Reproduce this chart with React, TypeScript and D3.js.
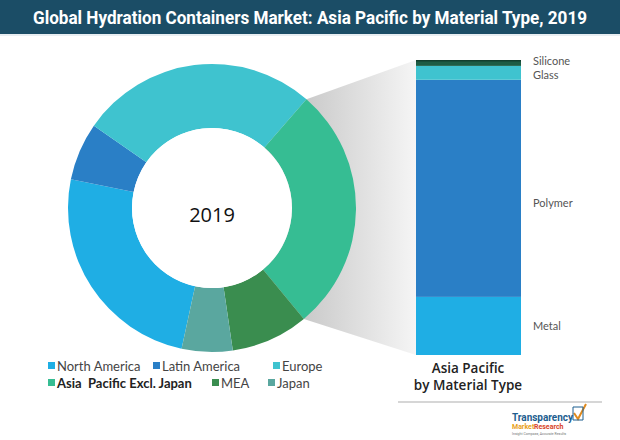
import React from "react";
import * as d3 from "d3";

const regions = ["North America", "Latin America", "Europe", "Asia  Pacific Excl. Japan", "MEA", "Japan"];
const regionShares = [24.8, 6.5, 26.7, 27.6, 8.7, 5.7];
const regionColors = ["#1faee4", "#2a7fc6", "#3fc3cf", "#36bd93", "#3a8d4f", "#5aa79f"];

const materials = ["Metal", "Polymer", "Glass", "Silicone"];
const materialShares = [19.7, 73.6, 4.7, 2.0];
const materialColors = ["#1faee4", "#2a7fc6", "#3fc3cf", "#1d5c44"];

const W = 620, H = 440;
const cx = 212, cy = 208, rOut = 144, rIn = 80;
const startDeg = 192.2;

export default function App() {
  const pie = d3.pie<number>().sort(null).value((d) => d)
    .startAngle((startDeg * Math.PI) / 180)
    .endAngle(((startDeg + 360) * Math.PI) / 180);
  const arcs = pie(regionShares);
  const arcGen = d3.arc<d3.PieArcDatum<number>>().innerRadius(rIn).outerRadius(rOut);

  const barX0 = 416, barX1 = 521, barTop = 60, barBottom = 355;
  const total = d3.sum(materialShares);
  const y = d3.scaleLinear().domain([0, total]).range([barBottom, barTop]);
  const cum = d3.cumsum(materialShares);
  const segs = materialShares.map((v, i) => ({ name: materials[i], y0: cum[i] - v, y1: cum[i], color: materialColors[i] }));
  const labelY: Record<string, number> = { Silicone: 61, Glass: 75, Polymer: 203, Metal: 326 };

  const ap = arcs[3];
  const ptA = [cx + rOut * Math.sin(ap.startAngle), cy - rOut * Math.cos(ap.startAngle)];
  const ptB = [cx + rOut * Math.sin(ap.endAngle), cy - rOut * Math.cos(ap.endAngle)];
  const trap = `M${cx},${cy} L${ptA[0]},${ptA[1]} L${barX0},${barTop} L${barX0},${barBottom} L${ptB[0]},${ptB[1]} Z`;

  const legendRows = [
    [{ i: 0, x: 48 }, { i: 1, x: 153 }, { i: 2, x: 273 }],
    [{ i: 3, x: 48 }, { i: 4, x: 212 }, { i: 5, x: 268 }],
  ];
  const legendY = [366, 383];

  return (
    <svg width={W} height={H} style={{ position: "absolute", left: 0, top: 0, background: "#fff" }}>
      <defs>
        <linearGradient id="gray" x1="300" x2={barX0} y1="0" y2="0" gradientUnits="userSpaceOnUse">
          <stop offset="0" stopColor="#c8c8c8" />
          <stop offset="1" stopColor="#f5f5f5" />
        </linearGradient>
      </defs>
      <rect x={0} y={0} width={W} height={H} fill="#ffffff" />
      <rect x={0} y={0} width={W} height={34} fill="#1b4d66" />
      <rect x={0} y={34} width={W} height={2} fill="#e8eef2" />
      <text x={310} y={24} textAnchor="middle" fill="#ffffff" fontFamily="Roboto, 'DejaVu Sans Condensed', sans-serif"
        fontWeight="bold" fontSize={18} textLength={554} lengthAdjust="spacingAndGlyphs">
        Global Hydration Containers Market: Asia Pacific by Material Type, 2019
      </text>

      <path d={trap} fill="url(#gray)" />

      <g transform={`translate(${cx},${cy})`}>
        {arcs.map((a, i) => (
          <path key={i} d={arcGen(a) || ""} fill={regionColors[i]} />
        ))}
        <circle r={rIn} fill="#fff" />
        <text x={0} y={14} textAnchor="middle" fontFamily="'Open Sans', sans-serif" fontWeight={500} fontSize={20} fill="#111">2019</text>
      </g>

      {segs.map((s) => (
        <rect key={s.name} x={barX0} width={barX1 - barX0} y={y(s.y1)} height={y(s.y0) - y(s.y1)} fill={s.color} />
      ))}
      <rect x={barX0} y={barTop} width={barX1 - barX0} height={1.5} fill="#123f2e" />
      {segs.map((s) => (
        <text key={s.name} x={533} y={labelY[s.name]} dy="0.35em" fontFamily="Lato, 'Open Sans', sans-serif" fontSize={11} fill="#555">
          {s.name}
        </text>
      ))}

      <text x={468} y={373} textAnchor="middle" fontFamily="'Open Sans', sans-serif" fontWeight={600} fontSize={13.5} fill="#222">Asia Pacific</text>
      <text x={468} y={390} textAnchor="middle" fontFamily="'Open Sans', sans-serif" fontWeight={600} fontSize={13.5} fill="#222">by Material Type</text>
      <rect x={398} y={401} width={204} height={2} fill="#d6d6d6" />

      {legendRows.map((row, r) =>
        row.map(({ i, x }) => (
          <g key={i}>
            <rect x={x} y={legendY[r] - 4} width={7} height={7} fill={regionColors[i]} />
            <text x={x + 9} y={legendY[r]} dy="0.35em" fontFamily="Lato, sans-serif" fontSize={13}
              style={{ whiteSpace: "pre" }}
              fontWeight={i === 3 ? "bold" : "normal"} fill={i === 3 ? "#222" : "#444"}>
              {regions[i]}
            </text>
          </g>
        ))
      )}

      <g>
        <text x={512} y={421} fontFamily="Roboto, sans-serif" fontWeight="bold" fontSize={11} fill="#1d5e8f"
          textLength={61} lengthAdjust="spacingAndGlyphs">Transparency</text>
        <path d="M574,413 L578,419 L586,404" fill="none" stroke="#e08a1e" strokeWidth={2} />
        <path d="M573,407 L583,407 L583,420 L573,420 Z" fill="none" stroke="#1d5e8f" strokeWidth={1} />
        <text x={512} y={429} fontFamily="Roboto, sans-serif" fontWeight="bold" fontSize={7} fill="#e8a21c">Market</text>
        <text x={534} y={429} fontFamily="Roboto, sans-serif" fontWeight="bold" fontSize={7} fill="#d9462a">Research</text>
        <text x={512} y={435} fontFamily="Roboto, sans-serif" fontSize={3.5} fill="#777">Insight Compass, Accurate Results</text>
      </g>
    </svg>
  );
}
